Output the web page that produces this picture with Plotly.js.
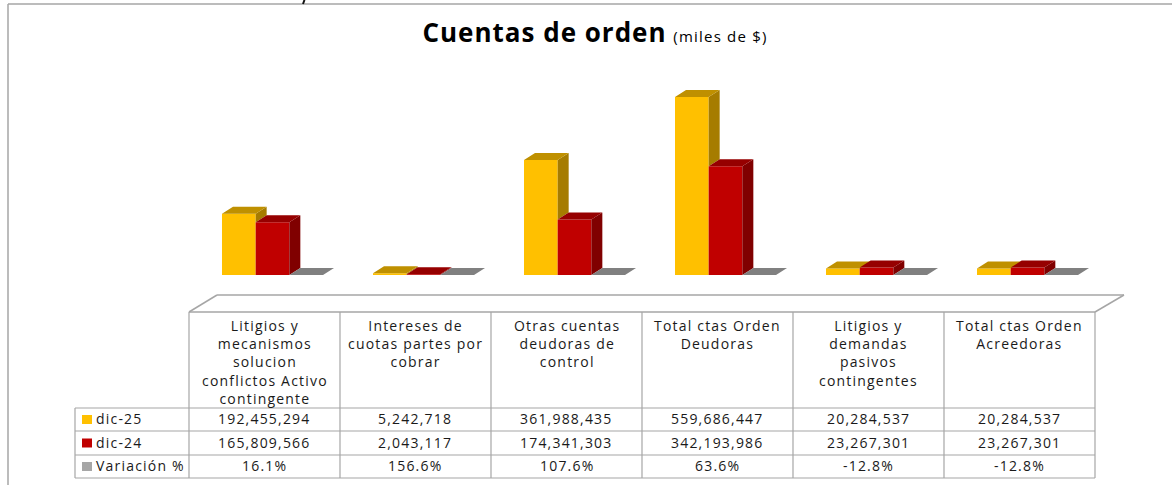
<!DOCTYPE html>
<html><head><meta charset="utf-8">
<script src="https://cdn.plot.ly/plotly-3.0.1.min.js"></script>
<style>html,body{margin:0;padding:0;background:#fff;overflow:hidden}
.annotation-text{letter-spacing:1.2px}</style>
</head><body><div id="chart" style="width:1172px;height:485px"></div>
<script>
const categories = [
  "Litigios y<br>mecanismos<br>solucion<br>conflictos Activo<br>contingente",
  "Intereses de<br>cuotas partes por<br>cobrar",
  "Otras cuentas<br>deudoras de<br>control",
  "Total ctas Orden<br>Deudoras",
  "Litigios y<br>demandas<br>pasivos<br>contingentes",
  "Total ctas Orden<br>Acreedoras"
];
const dic25 = [192455294, 5242718, 361988435, 559686447, 20284537, 20284537];
const dic24 = [165809566, 2043117, 174341303, 342193986, 23267301, 23267301];
const variacion = [16.1, 156.6, 107.6, 63.6, -12.8, -12.8];
const seriesNames = ["dic-25", "dic-24", "Variación %"];
const colors = ["#FFC000", "#C00000", "#A6A6A6"];
const topColors = ["#BF9000", "#960000", "#808080"];
const sideColors = ["#A67C00", "#800000", "#707070"];

const W = 1172, H = 485, FONT = '"Open Sans", sans-serif';
const px = x => x / W, py = y => 1 - y / H;
const colX = [189, 340, 491, 642, 793, 944, 1095];
const rowY = [312, 408, 431, 455, 478];
const LEG = 75;
const barW = 33.67 / 151, depthX = 11 / 151, depthY = 22e6;
const GRID = "#A6A6A6";

const xs = categories.map((_, i) => i);
const display = [dic25, dic24, variacion];
const tabled = [
  dic25.map(v => v.toLocaleString("en-US")),
  dic24.map(v => v.toLocaleString("en-US")),
  variacion.map(v => v.toFixed(1) + "%")
];

const traces = display.map((vals, s) => ({
  type: "bar", name: seriesNames[s], x: xs, y: vals,
  width: barW, offset: (s - 1.5) * barW,
  marker: {color: colors[s]}, hoverinfo: "name+y", showlegend: false
}));

function face(s, kind) {
  const X = [], Y = [];
  xs.forEach(i => {
    const v = Math.max(display[s][i], 0);
    const l = i + (s - 1.5) * barW, r = l + barW;
    let pts;
    if (kind === "top") {
      pts = [[l, v], [l + depthX, v + depthY], [r + depthX, v + depthY], [r, v]];
    } else {
      const next = s < 2 ? Math.max(display[s + 1][i], 0) : 0;
      if (v <= next) return;
      pts = [[r, next], [r, v], [r + depthX, v + depthY], [r + depthX, next + depthY]];
    }
    pts.concat([pts[0]]).forEach(p => { X.push(p[0]); Y.push(p[1]); });
    X.push(null); Y.push(null);
  });
  return {type: "scatter", mode: "lines", x: X, y: Y, fill: "toself",
    fillcolor: kind === "top" ? topColors[s] : sideColors[s],
    line: {width: 0}, hoverinfo: "skip", showlegend: false};
}
[0, 1, 2].forEach(s => { if (s < 2) traces.push(face(s, "side")); traces.push(face(s, "top")); });

const line = (x0, y0, x1, y1, w) => ({type: "line", xref: "paper", yref: "paper",
  x0: px(x0), y0: py(y0), x1: px(x1), y1: py(y1), line: {color: GRID, width: w || 1.2}, layer: "below"});

const shapes = [
  line(8, 4, W, 4, 1.5), line(8, 4, 8, H, 1.5),
  line(189, 312, 217, 295, 1.5), line(217, 295, 1124, 295, 1.5), line(1124, 295, 1095, 312, 1.5),
  line(189, 312, 1095, 312, 1.5), line(LEG, 408, 1095, 408), line(LEG, 431, 1095, 431),
  line(LEG, 455, 1095, 455), line(LEG, 478, 1095, 478), line(LEG, 408, LEG, 478),
  ...colX.map(x => line(x, 312, x, 478)),
  {type: "line", xref: "paper", yref: "paper", x0: px(304.5), y0: py(0), x1: px(303), y1: py(4),
   line: {color: "#111", width: 2}}
];
seriesNames.forEach((_, s) => {
  const c = (rowY[s + 1] + rowY[s + 2]) / 2;
  shapes.push({type: "rect", xref: "paper", yref: "paper", x0: px(82), x1: px(92),
    y0: py(c + 4.5), y1: py(c - 4.5), fillcolor: colors[s], line: {width: 0}});
});

const ann = (x, y, text, xanchor, yanchor, size) => ({xref: "paper", yref: "paper", x: px(x), y: py(y),
  text, showarrow: false, xanchor, yanchor, align: "center", borderpad: 0, borderwidth: 0,
  font: {family: FONT, size: size || 14, color: "#1a1a1a"}});
const annotations = [];
categories.forEach((c, i) => {
  annotations.push(ann((colX[i] + colX[i + 1]) / 2, 316, c, "center", "top"));
  tabled.forEach((row, s) => annotations.push(
    ann((colX[i] + colX[i + 1]) / 2, (rowY[s + 1] + rowY[s + 2]) / 2 - 1, row[i], "center", "middle")));
});
seriesNames.forEach((n, s) => annotations.push(ann(96, (rowY[s + 1] + rowY[s + 2]) / 2 - 1, n, "left", "middle")));

Plotly.newPlot("chart", traces, {
  width: W, height: H, margin: {l: 0, r: 0, t: 0, b: 0},
  paper_bgcolor: "#fff", plot_bgcolor: "rgba(0,0,0,0)",
  barmode: "overlay",
  title: {text: '<b style="letter-spacing:1px">Cuentas de orden</b> <span style="font-size:15px;letter-spacing:1.2px">(miles de $)</span>',
    x: 595 / W, xanchor: "center", y: py(33), yanchor: "middle", font: {family: FONT, size: 26, color: "#000"}},
  xaxis: {domain: [px(197), px(1103)], range: [-0.5, 5.5], visible: false, fixedrange: true},
  yaxis: {domain: [py(275), py(84.2)], range: [0, 600e6], visible: false, fixedrange: true},
  shapes, annotations
}, {displayModeBar: false, responsive: false});
</script></body></html>
